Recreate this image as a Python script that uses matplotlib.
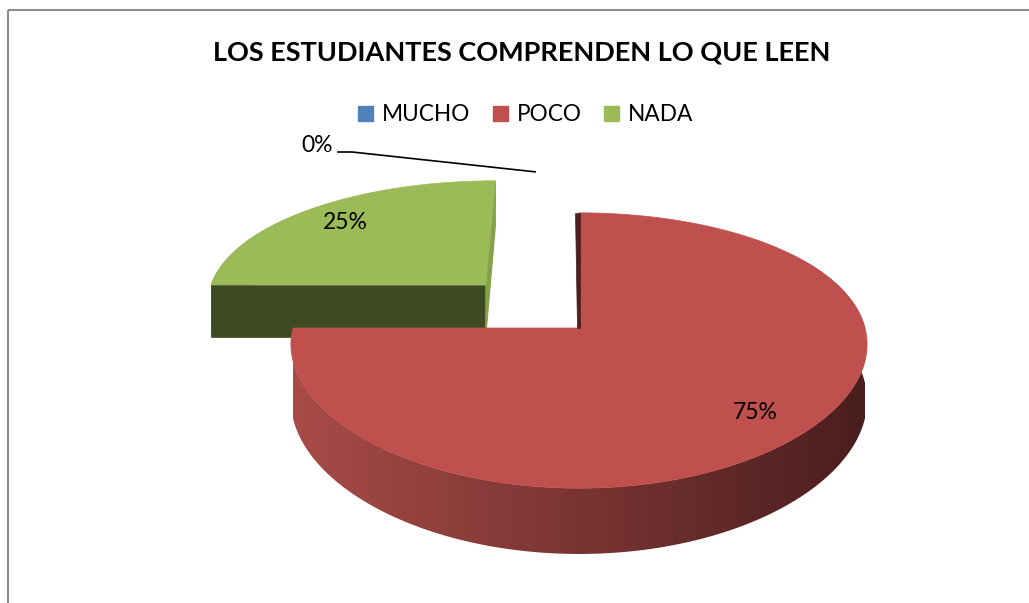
import numpy as np
import matplotlib.pyplot as plt
from matplotlib.patches import Polygon, Rectangle, Patch
from matplotlib.colors import LinearSegmentedColormap

categories = ['MUCHO', 'POCO', 'NADA']
values = [0, 75, 25]
pct_labels = ['0%', '75%', '25%']
explode = [0.5, 0.0, 0.48]
top_colors = ['#4F81BD', '#C0504D', '#9BBB59']
side_light = ['#3F6797', '#A84B47', '#6F8A3C']
side_dark = ['#243A57', '#4A1E1E', '#3E4A22']
cut_colors = ['#2F4D72', '#5A2424', '#3E4A22']
edge_colors = ['#3F6797', '#4E1F1F', '#86A24A']

title = 'LOS ESTUDIANTES COMPRENDEN LO QUE LEEN'
FONT = 'Lato'

# projection of the tilted disc (pixel space)
CX, CY = 579, 328
A, B = 286, 134
PX, PY = 0.12, 0.1636
H = 55


def proj(u, v, z=0.0):
    sx = 1.0 / (1.0 - PX * v)
    sy = 1.0 / (1.0 - PY * v)
    return CX + A * u * sx, CY + (B * v + H * z) * sy


fig = plt.figure(figsize=(10.29, 6.03), dpi=100)
ax = fig.add_axes([0, 0, 1, 1])

ax.add_patch(Rectangle((8, 10), 1100, 700, fill=False, edgecolor='#8C8C8C', lw=1.5))

total = sum(values)
starts = []
acc = -90.0
for val in values:
    starts.append((acc, acc + 360.0 * val / total))
    acc += 360.0 * val / total

# draw far slices first
order = sorted(range(len(values)),
               key=lambda i: np.sin(np.radians(sum(starts[i]) / 2)) if values[i] > 0 else -9)

z = 2
for i in order:
    if values[i] == 0:
        continue
    t0, t1 = starts[i]
    mid = np.radians((t0 + t1) / 2)
    eu, ev = explode[i] * np.cos(mid), explode[i] * np.sin(mid)
    th = np.radians(np.linspace(t0, t1, 300))
    top_pts = [proj(eu + np.cos(a), ev + np.sin(a), 0) for a in th]

    # outer rim (front part only), shaded left to right
    th_r = th[np.sin(th) > -0.6]
    rt = [proj(eu + np.cos(a), ev + np.sin(a), 0) for a in th_r]
    rb = [proj(eu + np.cos(a), ev + np.sin(a), 1) for a in th_r]
    rim = Polygon(rt + rb[::-1], closed=True, fc='none', ec='none', transform=ax.transData)
    ax.add_patch(rim)
    ys = [p[1] for p in rt + rb]
    x_lo, x_hi = proj(eu - 1, ev, 0)[0], proj(eu + 1, ev, 0)[0]
    cmap = LinearSegmentedColormap.from_list('rim%d' % i, [side_light[i], side_dark[i]])
    im = ax.imshow(np.linspace(0, 1, 256)[None, :], cmap=cmap, aspect='auto',
                   extent=(x_lo, x_hi, max(ys) + 2, min(ys) - 2), zorder=z, interpolation='bilinear')
    im.set_clip_path(rim)
    z += 1

    # cut faces: facing the viewer get the dark colour, edge-on ones a thin shade
    for phi_d, vis in ((t0, -np.cos(np.radians(t0))), (t1, np.cos(np.radians(t1)))):
        phi = np.radians(phi_d)
        pts = [proj(eu, ev, 0), proj(eu + np.cos(phi), ev + np.sin(phi), 0),
               proj(eu + np.cos(phi), ev + np.sin(phi), 1), proj(eu, ev, 1)]
        if vis > 0.01:
            ax.add_patch(Polygon(pts, closed=True, fc=cut_colors[i], ec=cut_colors[i], lw=0.5, zorder=z))
        elif vis > -0.01:
            ax.add_patch(Polygon(pts, closed=True, fc=edge_colors[i], ec=edge_colors[i], lw=0.8, zorder=z))
        z += 1

    # top face
    pts = [proj(eu, ev, 0)] + top_pts
    ax.add_patch(Polygon(pts, closed=True, fc=top_colors[i], ec=top_colors[i], lw=0.5, zorder=z))
    z += 1

    # thin visible strip on the vertical cut of the slice at the centre
    if explode[i] == 0 and abs(np.cos(np.radians(t0))) < 0.01:
        x0, y0 = proj(eu, ev, 0)
        x1, y1 = proj(eu, ev - 1, 0)
        strip = [(x1 - 4, y1), (x1 + 0.5, y1), (x0 + 0.5, y0), (x0 - 2.5, y0)]
        ax.add_patch(Polygon(strip, closed=True, fc=edge_colors[i], ec=edge_colors[i], lw=0.5, zorder=z))
        z += 1

# percentage labels
label_r = [1.0, 0.81, 0.80]
for i in range(len(values)):
    if values[i] == 0:
        continue
    t0, t1 = starts[i]
    mid = np.radians((t0 + t1) / 2)
    r = explode[i] + label_r[i]
    x, y = proj(r * np.cos(mid), r * np.sin(mid), 0)
    ax.text(x, y, pct_labels[i], ha='center', va='center', fontsize=16.5, family=FONT,
            color='black', zorder=50)

# zero slice label with leader line
zi = values.index(0)
lx, ly = proj(-0.18, -1.44, 0)
ax.plot([338, 352, lx], [152, 152, ly], color='black', lw=1.2, zorder=50)
ax.text(333, 146, pct_labels[zi], ha='right', va='center', fontsize=16.5, family=FONT, zorder=50)

ax.text(522, 52, title, ha='center', va='center', fontsize=19.5, fontweight='bold', family=FONT)

handles = [Patch(facecolor=c, edgecolor=c) for c in top_colors]
ax.legend(handles, categories, ncol=3, frameon=False, loc='center', bbox_to_anchor=(0.511, 0.81),
          handlelength=0.65, handleheight=0.65, handletextpad=0.4, columnspacing=1.0,
          prop={'family': FONT, 'size': 16.3})

ax.set_xlim(0, 1029)
ax.set_ylim(603, 0)
ax.axis('off')

fig.savefig('out.png', dpi=100)
